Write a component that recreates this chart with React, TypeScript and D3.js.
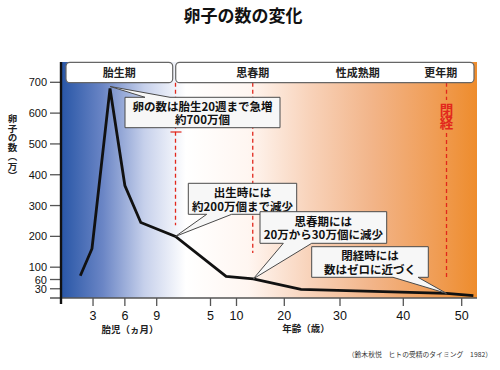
import React from "react";
import * as d3 from "d3";

// fetal period (months after conception) and counts in 万
const fetalMonths = [1.8, 2.9, 4.6, 6, 7.5];
const fetalCounts = [72, 160, 680, 365, 245];
// after birth (age in years) and counts in 万
const ages = [0, 8, 13.5, 23, 47.4, 52];
const ageCounts = [200, 70, 62, 28, 15, 8];

const yTicks = [30, 60, 100, 200, 300, 400, 500, 600, 700];
const monthTicks = [3, 6, 9];
const ageTicks = [5, 10, 20, 30, 40, 50];

const phaseLabels = ["思春期", "性成熟期", "更年期"];
const phaseAges = [13.4, 32.8, 46.4];

// birth, puberty, menopause
const markerAges = [0, 13.4, 47.4];
const markerEnds = [236, 146, 68];

const calloutTexts = [
    ["卵の数は胎生20週まで急増", "約700万個"],
    ["出生時には", "約200万個まで減少"],
    ["思春期には", "20万から30万個に減少"],
    ["閉経時には", "数はゼロに近づく"],
];

const FONT = "'Noto Sans CJK JP', 'Noto Sans', sans-serif";
const NUM_FONT = "'Liberation Sans', Arial, sans-serif";
const RED = "#e2271c";

const W = 500;
const H = 370;
const plot = { left: 61, right: 477, top: 62, bottom: 298 };

function calloutPath(x: number, y: number, w: number, h: number, side: string, b1: number, b2: number, ax: number, ay: number) {
    const p = d3.path();
    p.moveTo(x, y);
    if (side === "top") {
        p.lineTo(b1, y);
        p.lineTo(ax, ay);
        p.lineTo(b2, y);
    }
    p.lineTo(x + w, y);
    p.lineTo(x + w, y + h);
    if (side === "bottom") {
        p.lineTo(b2, y + h);
        p.lineTo(ax, ay);
        p.lineTo(b1, y + h);
    }
    p.lineTo(x, y + h);
    p.closePath();
    return p.toString();
}

const App = () => {
    const svgRef = React.useRef(null);

    React.useEffect(() => {
        const yScale = d3.scaleLinear().domain([0, 700]).range([plot.bottom, 82.3]);
        const monthScale = d3.scaleLinear().domain([0, 9]).range([61.2, 156.7]);
        // the age axis is hand-spaced in the original, so it is piecewise
        const ageScale = d3
            .scaleLinear()
            .domain([0, 5, 10, 20, 30, 40, 50])
            .range([175.5, 210.5, 236.5, 284.3, 340, 403.3, 461.7]);

        const svgEl = d3.select(svgRef.current);
        svgEl.selectAll("*").remove();

        // background gradient
        const grad = svgEl
            .append("defs")
            .append("linearGradient")
            .attr("id", "bg")
            .attr("x1", "0")
            .attr("x2", "1")
            .attr("y1", "0")
            .attr("y2", "0");
        const stops: [number, string][] = [
            [0, "#2856a6"],
            [0.1, "#6a85c5"],
            [0.2, "#c6d0eb"],
            [0.3, "#ffffff"],
            [0.45, "#fff6f1"],
            [0.6, "#f8d2b9"],
            [0.75, "#f2b488"],
            [0.9, "#f09d55"],
            [1, "#ee8c2c"],
        ];
        stops.forEach(([o, c]) => grad.append("stop").attr("offset", o).attr("stop-color", c));

        svgEl.append("rect").attr("width", W).attr("height", H).attr("fill", "white");
        svgEl
            .append("rect")
            .attr("x", plot.left)
            .attr("y", plot.top)
            .attr("width", plot.right - plot.left)
            .attr("height", plot.bottom - plot.top)
            .attr("fill", "url(#bg)");

        // title
        svgEl
            .append("text")
            .attr("x", 243)
            .attr("y", 22)
            .attr("text-anchor", "middle")
            .attr("font-family", FONT)
            .attr("font-weight", "bold")
            .attr("font-size", 17)
            .attr("fill", "#111")
            .text("卵子の数の変化");

        // red dashed markers
        markerAges.forEach((a, i) => {
            const x = ageScale(a);
            const yEnd = yScale(markerEnds[i]);
            const segs = i === 2 ? [[82.7, 100], [133, yEnd]] : [[82.7, yEnd]];
            segs.forEach(([y1, y2]) =>
                svgEl
                    .append("line")
                    .attr("x1", x)
                    .attr("x2", x)
                    .attr("y1", y1)
                    .attr("y2", y2)
                    .attr("stroke", RED)
                    .attr("stroke-width", 1.3)
                    .attr("stroke-dasharray", "4,3")
            );
        });
        svgEl
            .append("line")
            .attr("x1", ageScale(0) - 5)
            .attr("x2", ageScale(0) + 6)
            .attr("y1", 132)
            .attr("y2", 132)
            .attr("stroke", RED)
            .attr("stroke-width", 1.2);
        svgEl
            .append("text")
            .attr("x", ageScale(markerAges[2]))
            .attr("y", 116.5)
            .attr("text-anchor", "middle")
            .attr("font-family", FONT)
            .attr("font-weight", "bold")
            .attr("font-size", 13.5)
            .attr("fill", RED)
            .style("writing-mode", "vertical-rl")
            .text("閉経");

        // axes
        const yAxisGroup = svgEl.append("g");
        yTicks.forEach((t) => {
            yAxisGroup
                .append("line")
                .attr("x1", 50)
                .attr("x2", plot.left)
                .attr("y1", yScale(t))
                .attr("y2", yScale(t))
                .attr("stroke", "#555")
                .attr("stroke-width", 1.3);
            yAxisGroup
                .append("text")
                .attr("x", 47)
                .attr("y", yScale(t) + 4)
                .attr("text-anchor", "end")
                .attr("font-family", NUM_FONT)
                .attr("font-size", 11)
                .attr("fill", "#111")
                .text(t);
        });
        svgEl
            .append("line")
            .attr("x1", 50)
            .attr("x2", plot.right)
            .attr("y1", plot.bottom)
            .attr("y2", plot.bottom)
            .attr("stroke", "#555")
            .attr("stroke-width", 1.4);

        const xTicks = [
            ...monthTicks.map((m) => ({ x: monthScale(m), label: m })),
            ...ageTicks.map((a) => ({ x: ageScale(a), label: a })),
        ];
        xTicks.forEach((t) => {
            svgEl
                .append("line")
                .attr("x1", t.x)
                .attr("x2", t.x)
                .attr("y1", plot.bottom)
                .attr("y2", 306)
                .attr("stroke", "#555")
                .attr("stroke-width", 1.3);
            svgEl
                .append("text")
                .attr("x", t.x)
                .attr("y", 319.5)
                .attr("text-anchor", "middle")
                .attr("font-family", NUM_FONT)
                .attr("font-size", 12.5)
                .attr("fill", "#111")
                .text(t.label);
        });
        svgEl
            .append("line")
            .attr("x1", plot.left)
            .attr("x2", plot.left)
            .attr("y1", plot.top)
            .attr("y2", 304)
            .attr("stroke", "#111")
            .attr("stroke-width", 2.4);

        // axis titles
        const axisTitle = (x: number, y: number, s: string) =>
            svgEl
                .append("text")
                .attr("x", x)
                .attr("y", y)
                .attr("text-anchor", "middle")
                .attr("font-family", FONT)
                .attr("font-weight", "bold")
                .attr("font-size", 9.5)
                .attr("fill", "#222")
                .text(s);
        axisTitle(130, 332.5, "胎児（ヵ月）");
        axisTitle(306, 331.5, "年齢（歳）");
        axisTitle(12.5, 147, "卵子の数（万）").style("writing-mode", "vertical-rl");

        // the curve
        const points: [number, number][] = [
            ...fetalMonths.map((m, i) => [monthScale(m), yScale(fetalCounts[i])] as [number, number]),
            ...ages.map((a, i) => [ageScale(a), yScale(ageCounts[i])] as [number, number]),
        ];
        svgEl
            .append("path")
            .attr("d", d3.line()(points))
            .attr("fill", "none")
            .attr("stroke", "#111")
            .attr("stroke-width", 2.8)
            .attr("stroke-linejoin", "miter");

        // phase banner
        const bannerBoxes = [
            [66, 172.7],
            [175.7, 474],
        ];
        bannerBoxes.forEach(([x1, x2]) =>
            svgEl
                .append("rect")
                .attr("x", x1)
                .attr("y", 62.3)
                .attr("width", x2 - x1)
                .attr("height", 20.4)
                .attr("rx", 4)
                .attr("fill", "white")
                .attr("stroke", "#666")
                .attr("stroke-width", 1.2)
        );
        const bannerText = (x: number, s: string) =>
            svgEl
                .append("text")
                .attr("x", x)
                .attr("y", 76.5)
                .attr("text-anchor", "middle")
                .attr("font-family", FONT)
                .attr("font-weight", "bold")
                .attr("font-size", 11)
                .attr("fill", "#222")
                .text(s);
        bannerText(119.3, "胎生期");
        phaseLabels.forEach((s, i) => bannerText(ageScale(phaseAges[i]), s));

        // callouts
        const targets: [number, number][] = [
            [monthScale(fetalMonths[2]), yScale(fetalCounts[2]) - 2],
            [ageScale(ages[0]), yScale(ageCounts[0])],
            [ageScale(ages[2]), yScale(ageCounts[2])],
            [ageScale(ages[4]), yScale(ageCounts[4])],
        ];
        const boxes = [
            { x: 125, y: 97.3, w: 155, h: 30.4, side: "top", b: [145, 170] },
            { x: 188.3, y: 183.3, w: 108.4, h: 31, side: "bottom", b: [206.7, 231.7] },
            { x: 260, y: 211.7, w: 126.7, h: 31.6, side: "bottom", b: [283.3, 311.7] },
            { x: 311.7, y: 246.7, w: 116.6, h: 30.6, side: "bottom", b: [393, 418] },
        ];
        boxes.forEach((bx, i) => {
            const g = svgEl.append("g");
            g.append("path")
                .attr("d", calloutPath(bx.x, bx.y, bx.w, bx.h, bx.side, bx.b[0], bx.b[1], targets[i][0], targets[i][1]))
                .attr("fill", "#f7f7f7")
                .attr("stroke", "#4a4a4a")
                .attr("stroke-width", 1)
                .attr("stroke-linejoin", "miter");
            calloutTexts[i].forEach((s, j) =>
                g
                    .append("text")
                    .attr("x", bx.x + bx.w / 2)
                    .attr("y", bx.y + bx.h / 2 + (j === 0 ? -6.8 : 6.8))
                    .attr("dominant-baseline", "central")
                    .attr("text-anchor", "middle")
                    .attr("font-family", FONT)
                    .attr("font-weight", "bold")
                    .attr("font-size", 11.5)
                    .attr("fill", "#111")
                    .text(s)
            );
        });

        // source
        svgEl
            .append("text")
            .attr("x", 492)
            .attr("y", 357)
            .attr("text-anchor", "end")
            .attr("font-family", FONT)
            .attr("font-size", 6.8)
            .attr("fill", "#333")
            .text("（鈴木秋悦　ヒトの受精のタイミング　1982）");
    }, []);

    return (
        <svg
            ref={svgRef}
            width={W}
            height={H}
            viewBox={`0 0 ${W} ${H}`}
            style={{ position: "absolute", left: 0, top: 0, display: "block" }}
        />
    );
};

export default App;
